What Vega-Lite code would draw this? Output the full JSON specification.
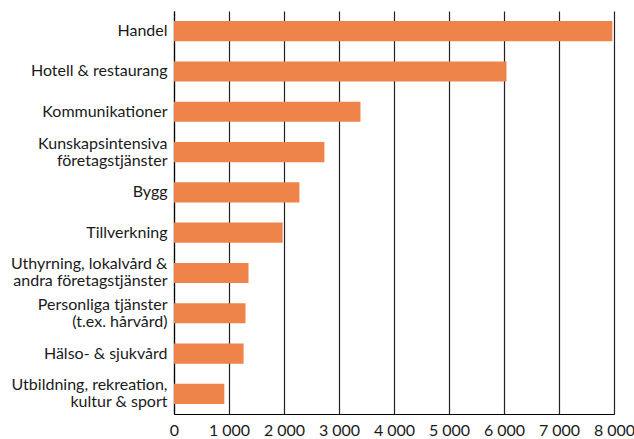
{
  "$schema": "https://vega.github.io/schema/vega-lite/v6.json",
  "autosize": "none",
  "width": 440,
  "height": 403,
  "padding": {"left": 174, "top": 11, "right": 20, "bottom": 25},
  "background": "white",
  "data": {
    "values": [
      {"bransch": "Handel", "antal": 7970},
      {"bransch": "Hotell & restaurang", "antal": 6045},
      {"bransch": "Kommunikationer", "antal": 3390},
      {"bransch": "Kunskapsintensiva|företagstjänster", "antal": 2735},
      {"bransch": "Bygg", "antal": 2280},
      {"bransch": "Tillverkning", "antal": 1975},
      {"bransch": "Uthyrning, lokalvård &|andra företagstjänster", "antal": 1355},
      {"bransch": "Personliga tjänster|(t.ex. hårvård)", "antal": 1300},
      {"bransch": "Hälso- & sjukvård", "antal": 1265},
      {"bransch": "Utbildning, rekreation,|kultur & sport", "antal": 915}
    ]
  },
  "mark": {"type": "bar", "color": "#EE8449"},
  "encoding": {
    "y": {
      "field": "bransch",
      "type": "nominal",
      "sort": null,
      "title": null,
      "scale": {"paddingInner": 0.5, "paddingOuter": 0.25},
      "axis": {
        "labelExpr": "split(datum.value, '|')",
        "labelFont": "Lato",
        "labelFontSize": 16,
        "labelColor": "#1a1a1a",
        "labelLineHeight": 17,
        "labelPadding": 7,
        "labelOffset": {"condition": {"test": "indexof(datum.value, '|') >= 0", "value": -8.5}, "value": 0},
        "ticks": false,
        "domainColor": "#000000",
        "domainWidth": 1.2,
        "labelLimit": 200
      }
    },
    "x": {
      "field": "antal",
      "type": "quantitative",
      "title": null,
      "scale": {"domain": [0, 8000], "nice": false},
      "axis": {
        "values": [0, 1000, 2000, 3000, 4000, 5000, 6000, 7000, 8000],
        "labelExpr": "replace(format(datum.value, ','), ',', ' ')",
        "labelFont": "Lato",
        "labelFontSize": 16,
        "labelColor": "#1a1a1a",
        "labelPadding": 8,
        "ticks": false,
        "domainColor": "#000000",
        "domainWidth": 1.2,
        "grid": true,
        "gridColor": "#222222",
        "gridWidth": 1.2,
        "gridOpacity": 1,
        "labelFlush": false,
        "labelOverlap": false
      }
    }
  },
  "config": {"view": {"stroke": null}}
}
